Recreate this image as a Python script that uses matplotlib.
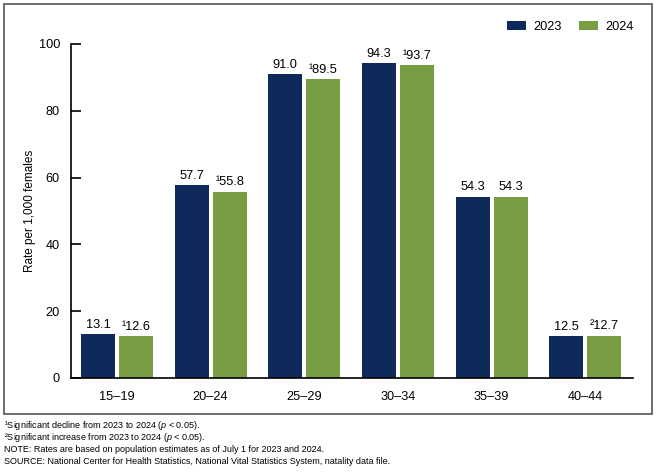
import numpy as np
import matplotlib
matplotlib.use("Agg")
import matplotlib.pyplot as plt
from matplotlib.patches import Rectangle

plt.rcParams['font.family'] = ['Liberation Sans', 'DejaVu Sans']
plt.rcParams['mathtext.fontset'] = 'custom'
plt.rcParams['mathtext.rm'] = 'Liberation Sans'
plt.rcParams['mathtext.it'] = 'Liberation Sans:italic'

ages = ['15–19', '20–24', '25–29', '30–34', '35–39', '40–44']
rates_2023 = [13.1, 57.7, 91.0, 94.3, 54.3, 12.5]
rates_2024 = [12.6, 55.8, 89.5, 93.7, 54.3, 12.7]
marks_2024 = ['¹', '¹', '¹', '¹', '', '²']

navy = '#0e2a5a'
green = '#789d42'

fig = plt.figure(figsize=(6.58, 4.72), dpi=100)
ax = fig.add_axes([71/658, 1 - 378/472, (633 - 71)/658, (378 - 44)/472])

x = np.arange(len(ages))
w = 0.363
gap = 0.043
b1 = ax.bar(x - (w + gap)/2, rates_2023, w, color=navy, label='2023')
b2 = ax.bar(x + (w + gap)/2, rates_2024, w, color=green, label='2024')

for r, v in zip(b1, rates_2023):
    ax.text(r.get_x() + r.get_width()/2, v + 1.0, f'{v:.1f}', ha='center', va='bottom', fontsize=9.2)
for r, v, m in zip(b2, rates_2024, marks_2024):
    ax.text(r.get_x() + r.get_width()/2, v + 1.0, f'{m}{v:.1f}', ha='center', va='bottom', fontsize=9.2)

ax.set_xlim(-0.49, 5.51)
ax.set_ylim(0, 100)
ax.set_yticks([0, 20, 40, 60, 80, 100])
ax.set_xticks(x)
ax.set_xticklabels(ages)
ax.tick_params(axis='y', direction='in', length=7, width=1.2, labelsize=9.2, pad=8)
ax.tick_params(axis='x', length=0, labelsize=9.2, pad=9)
ax.spines['top'].set_visible(False)
ax.spines['right'].set_visible(False)
ax.spines['left'].set_linewidth(1.2)
ax.spines['bottom'].set_linewidth(1.2)
ax.set_ylabel('Rate per 1,000 females', fontsize=8.5, labelpad=1.5)

ax.legend(loc='center right', bbox_to_anchor=(634/658, 1 - 27/472), bbox_transform=fig.transFigure,
          ncol=2, frameon=False, fontsize=9.2, handlelength=1.5, handleheight=0.7,
          columnspacing=1.3, handletextpad=0.6, borderpad=0, borderaxespad=0)

fig.patches.append(Rectangle((4/658, 1 - 414/472), 648/658, 410/472, transform=fig.transFigure,
                             fill=False, edgecolor='#555555', linewidth=1.2))

notes = [
    r'¹Significant decline from 2023 to 2024 ($p$ < 0.05).',
    r'²Significant increase from 2023 to 2024 ($p$ < 0.05).',
    'NOTE: Rates are based on population estimates as of July 1 for 2023 and 2024.',
    'SOURCE: National Center for Health Statistics, National Vital Statistics System, natality data file.',
]
for i, t in enumerate(notes):
    fig.text(4/658, 1 - (425 + 12*i)/472, t, fontsize=6.5, va='center', ha='left')

fig.savefig('out.png', dpi=100)
